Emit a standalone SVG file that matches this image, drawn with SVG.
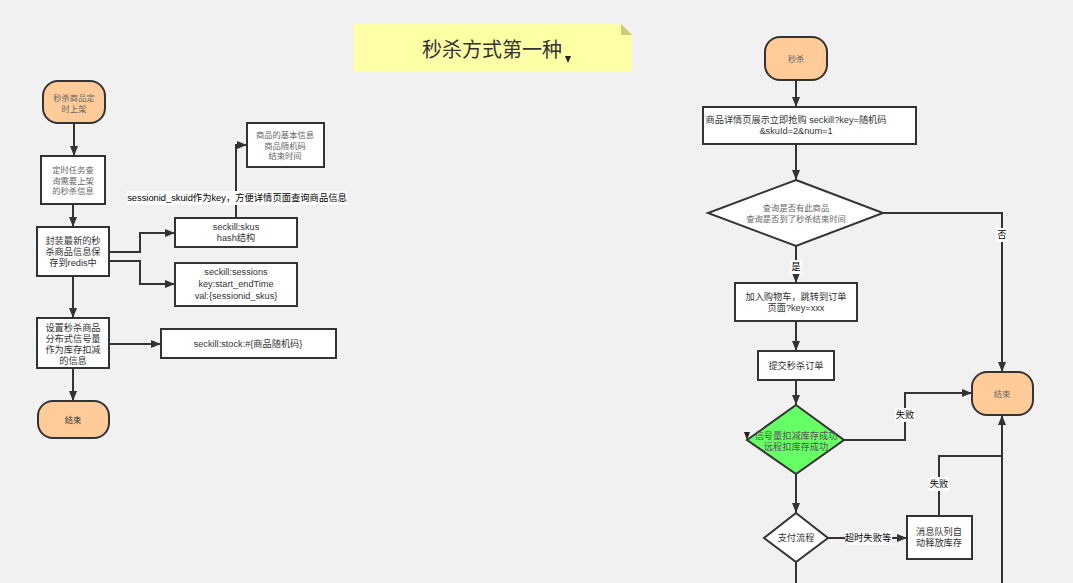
<svg xmlns="http://www.w3.org/2000/svg" width="1073" height="583" viewBox="0 0 1073 583">
<defs>
<marker id="arr" markerUnits="userSpaceOnUse" markerWidth="10" markerHeight="10" viewBox="0 0 10 10" refX="10" refY="5" orient="auto">
<path d="M0 1 L10 5 L0 9 Z" fill="#333"/>
</marker>
<style>
text{font-family:"Liberation Sans","Noto Sans CJK SC",sans-serif;text-anchor:middle;dominant-baseline:central}
.n{fill:#fff;stroke:#333;stroke-width:2}
.t{fill:#ffcc99;stroke:#333;stroke-width:2}
.s{font-size:8.3px;fill:#666}
.m{font-size:9.2px;fill:#333}
.c path{fill:none;stroke:#333;stroke-width:2}
.lb{fill:#fff}
.l{font-size:9.3px;fill:#000}
</style>
</defs>
<rect width="1073" height="583" fill="#f1f1f1"/>

<g id="title">
<path d="M354 24 H621 L632 35 V72 H354 Z" fill="#ffffa6"/>
<path d="M621 24 L632 35 H621 Z" fill="#cccc77"/>
<text x="492" y="50" style="font-size:20px;fill:#333">秒杀方式第一种</text>
<path d="M565 56 H571 L568 63 Z" fill="#222"/>
</g>

<g class="c" id="connectors">
<path d="M74 123 V156" marker-end="url(#arr)"/>
<path d="M73 204 V227" marker-end="url(#arr)"/>
<path d="M73 276 V318" marker-end="url(#arr)"/>
<path d="M73 368 V401" marker-end="url(#arr)"/>
<path d="M109 252 H140 V233 H175" marker-end="url(#arr)"/>
<path d="M109 261 H140 V284 H175" marker-end="url(#arr)"/>
<path d="M236 218 V145 H247" marker-end="url(#arr)"/>
<path d="M109 344 H161" marker-end="url(#arr)"/>
<path d="M796 80 V107" marker-end="url(#arr)"/>
<path d="M796 144 V180" marker-end="url(#arr)"/>
<path d="M796 246 V283" marker-end="url(#arr)"/>
<path d="M796 321 V351" marker-end="url(#arr)"/>
<path d="M796 380 V405" marker-end="url(#arr)"/>
<path d="M844 440 H905 V393 H972" marker-end="url(#arr)"/>
<path d="M883 213 H1002 V372" marker-end="url(#arr)"/>
<path d="M796 474 V513" marker-end="url(#arr)"/>
<path d="M828 538 H907" marker-end="url(#arr)"/>
<path d="M939 516 V456 H1002"/>
<path d="M1002 583 V415" marker-end="url(#arr)"/>
<path d="M796 562 V583"/>
<rect class="lb" x="127" y="191" width="220" height="14"/>
<text class="l" x="237" y="198">sessionid_skuid作为key，方便详情页面查询商品信息</text>
<rect class="lb" x="996" y="228" width="12" height="14"/>
<text class="l" x="1002" y="235">否</text>
<rect class="lb" x="790" y="260" width="12" height="14"/>
<text class="l" x="796" y="267">是</text>
<rect class="lb" x="895" y="408" width="20" height="14"/>
<text class="l" x="905" y="415">失败</text>
<rect class="lb" x="929" y="477" width="20" height="14"/>
<text class="l" x="939" y="484">失败</text>
<rect class="lb" x="845" y="531" width="47" height="14"/>
<text class="l" x="868" y="538">超时失败等</text>
</g>

<g id="n1"><rect class="t" x="43" y="81" width="62" height="42" rx="15"/><text class="s" x="74" y="98">秒杀商品定</text><text class="s" x="74" y="109">时上架</text></g>
<g id="n2"><rect class="n" x="41" y="156" width="64" height="48"/><text class="s" x="73" y="170">定时任务查</text><text class="s" x="73" y="181">询需要上架</text><text class="s" x="73" y="191">的秒杀信息</text></g>
<g id="n3"><rect class="n" x="37" y="227" width="72" height="49"/><text class="m" x="73" y="241">封装最新的秒</text><text class="m" x="73" y="252">杀商品信息保</text><text class="m" x="73" y="263">存到redis中</text></g>
<g id="n4"><rect class="n" x="175" y="218" width="122" height="29"/><text class="m" x="236" y="227">seckill:skus</text><text class="m" x="236" y="238">hash结构</text></g>
<g id="n5"><rect class="n" x="175" y="263" width="122" height="43"/><text class="m" x="236" y="272">seckill:sessions</text><text class="m" x="236" y="284">key:start_endTime</text><text class="m" x="236" y="296">val:{sessionid_skus}</text></g>
<g id="n6"><rect class="n" x="247" y="123" width="77" height="44"/><text class="s" x="285" y="135">商品的基本信息</text><text class="s" x="285" y="146">商品随机码</text><text class="s" x="285" y="156">结束时间</text></g>
<g id="n7"><rect class="n" x="37" y="318" width="72" height="50"/><text class="m" x="73" y="328">设置秒杀商品</text><text class="m" x="73" y="339">分布式信号量</text><text class="m" x="73" y="350">作为库存扣减</text><text class="m" x="73" y="361">的信息</text></g>
<g id="n8"><rect class="n" x="161" y="329" width="175" height="29"/><text class="m" x="248" y="344">seckill:stock:#{商品随机码}</text></g>
<g id="n9"><rect class="t" x="38" y="401" width="71" height="37" rx="15"/><text class="s" x="73" y="420" style="fill:#333">结束</text></g>

<g id="r1"><rect class="t" x="765" y="37" width="62" height="43" rx="15"/><text class="s" x="796" y="59">秒杀</text></g>
<g id="r2"><rect class="n" x="703" y="107" width="213" height="37"/><text class="m" x="796" y="120">商品详情页展示立即抢购 seckill?key=随机码</text><text class="m" x="796" y="131">&amp;skuId=2&amp;num=1</text></g>
<g id="r3"><path class="n" d="M796 180 L883 213 L796 246 L708 213 Z"/><text class="s" x="796" y="208">查询是否有此商品</text><text class="s" x="796" y="219">查询是否到了秒杀结束时间</text></g>
<g id="r4"><rect class="n" x="735" y="283" width="122" height="38"/><text class="m" x="796" y="297">加入购物车，跳转到订单</text><text class="m" x="796" y="308">页面?key=xxx</text></g>
<g id="r5"><rect class="n" x="758" y="351" width="76" height="29"/><text class="m" x="796" y="366">提交秒杀订单</text></g>
<g id="r6"><path d="M796 405 L844 440 L796 474 L747 440 Z" fill="#66ff66" stroke="#333" stroke-width="2"/><text class="m" x="796" y="436" style="fill:#555">信号量扣减库存成功</text><text class="m" x="796" y="447" style="fill:#555">远程扣库存成功</text><path d="M744 432 H750 L747 440 Z" fill="#222"/></g>
<g id="r7"><rect class="t" x="972" y="372" width="61" height="43" rx="15"/><text class="s" x="1002" y="394">结束</text></g>
<g id="r8"><path class="n" d="M796 513 L828 538 L796 562 L764 538 Z"/><text class="m" x="796" y="538">支付流程</text></g>
<g id="r9"><rect class="n" x="907" y="516" width="65" height="43"/><text class="m" x="939" y="532">消息队列自</text><text class="m" x="939" y="543">动释放库存</text></g>
</svg>
